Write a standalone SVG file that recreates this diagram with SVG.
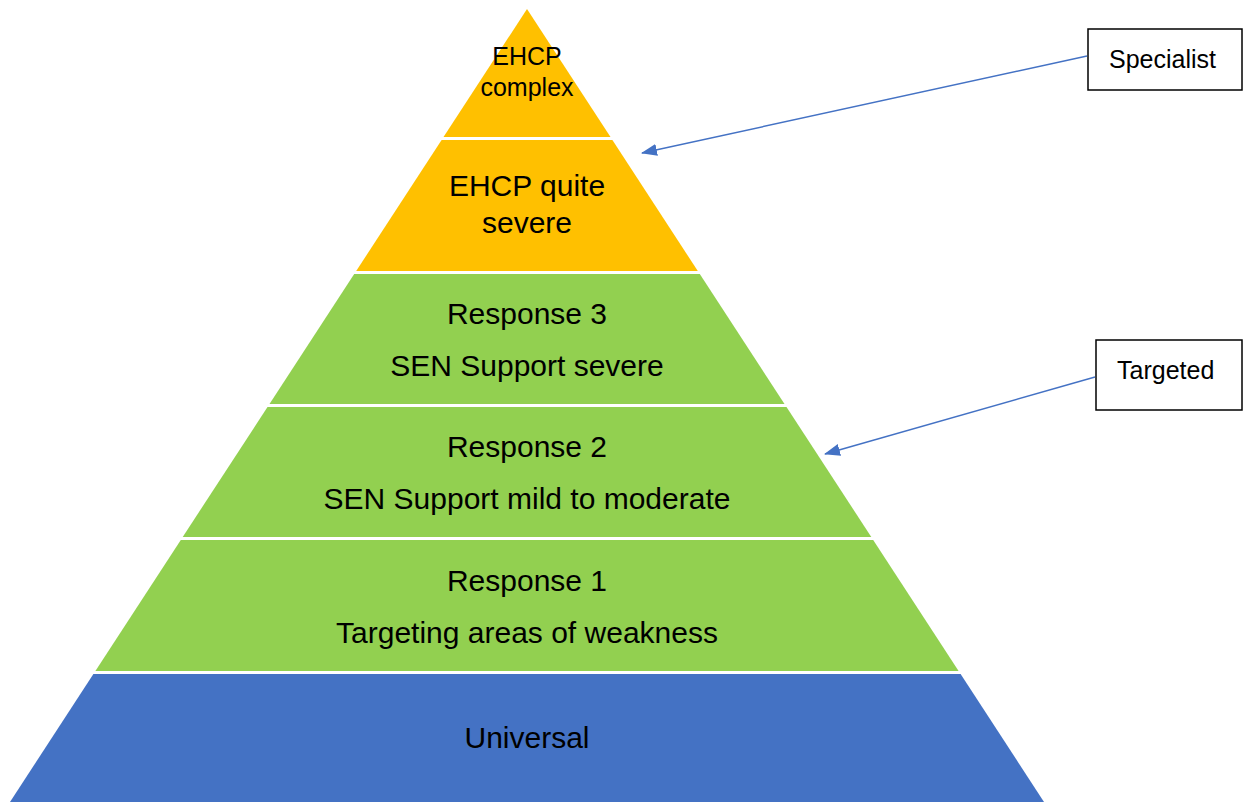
<svg xmlns="http://www.w3.org/2000/svg" width="1243" height="802" viewBox="0 0 1243 802">
<style>
.t{font-family:"Liberation Sans",Arial,sans-serif;font-size:30px;fill:#000;text-anchor:middle}
.s{font-size:25px}
.y{fill:#FFC000}.g{fill:#92D050}.b{fill:#4472C4}
.box{fill:#fff;stroke:#000;stroke-width:1.5}
.lbl{font-family:"Liberation Sans",Arial,sans-serif;font-size:25px;fill:#000}
.con{stroke:#4472C4;stroke-width:1.5;fill:none;marker-end:url(#ah)}
</style>
<defs>
<marker id="ah" viewBox="0 0 16 12" refX="15" refY="6" markerWidth="16" markerHeight="12" orient="auto" markerUnits="userSpaceOnUse">
<path d="M0,0 L16,6 L0,12 Z" fill="#4472C4"/>
</marker>
</defs>
<rect width="1243" height="802" fill="#fff"/>
<g id="ehcp-complex">
<polygon class="y" points="527,9 610.5,137 443.5,137"/>
<text class="t s" x="527" y="65">EHCP</text>
<text class="t s" x="527" y="96">complex</text>
</g>
<g id="ehcp-quite-severe">
<polygon class="y" points="441.6,140 612.4,140 697.8,271 356.2,271"/>
<text class="t" x="527" y="196">EHCP quite</text>
<text class="t" x="527" y="233">severe</text>
</g>
<g id="response-3">
<polygon class="g" points="354.2,274 699.8,274 784.5,404 269.5,404"/>
<text class="t" x="527" y="324">Response 3</text>
<text class="t" x="527" y="376">SEN Support severe</text>
</g>
<g id="response-2">
<polygon class="g" points="267.5,407 786.5,407 871.3,537 182.7,537"/>
<text class="t" x="527" y="457">Response 2</text>
<text class="t" x="527" y="509">SEN Support mild to moderate</text>
</g>
<g id="response-1">
<polygon class="g" points="180.8,540 873.2,540 958.6,671 95.4,671"/>
<text class="t" x="527" y="591">Response 1</text>
<text class="t" x="527" y="643">Targeting areas of weakness</text>
</g>
<g id="universal">
<polygon class="b" points="93.4,674 960.6,674 1044,802 10,802"/>
<text class="t" x="527" y="748">Universal</text>
</g>
<g id="specialist">
<rect class="box" x="1088" y="29" width="154" height="61"/>
<text class="lbl" x="1109" y="68">Specialist</text>
</g>
<g id="targeted">
<rect class="box" x="1096" y="340" width="146" height="70"/>
<text class="lbl" x="1117" y="379">Targeted</text>
</g>
<g id="connectors">
<line class="con" x1="1087" y1="56" x2="642" y2="153"/>
<line class="con" x1="1095" y1="377" x2="825" y2="454"/>
</g>
</svg>
